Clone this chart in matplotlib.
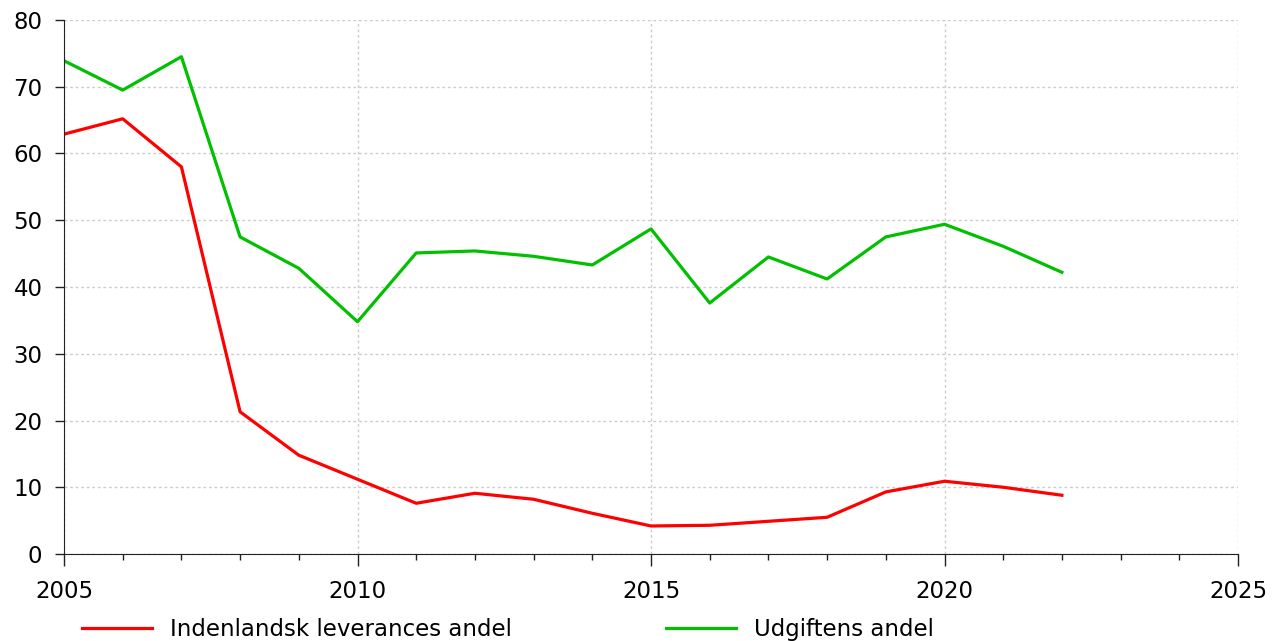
import numpy as np
import matplotlib.pyplot as plt
from matplotlib.ticker import MultipleLocator

years = list(range(2005, 2023))
indenlandsk = [62.9, 65.2, 58.0, 21.3, 14.8, 11.2, 7.6, 9.1, 8.2, 6.1,
               4.2, 4.3, 4.9, 5.5, 9.3, 10.9, 10.0, 8.8]
udgift = [73.9, 69.5, 74.5, 47.5, 42.8, 34.8, 45.1, 45.4, 44.6, 43.3,
          48.7, 37.6, 44.5, 41.2, 47.5, 49.4, 46.1, 42.2]

plt.rcParams['font.family'] = ['DejaVu Sans']

fig = plt.figure(figsize=(12.78, 6.41), dpi=100)
ax = fig.add_axes([64 / 1278, 1 - 554 / 641, (1238 - 64) / 1278, (554 - 20) / 641])

ax.plot(years, indenlandsk, color='#ff0000', lw=2.3, label='Indenlandsk leverances andel')
ax.plot(years, udgift, color='#00c000', lw=2.3, label='Udgiftens andel')

ax.set_xlim(2005, 2025)
ax.set_ylim(0, 80)
ax.xaxis.set_major_locator(MultipleLocator(5))
ax.xaxis.set_minor_locator(MultipleLocator(1))
ax.yaxis.set_major_locator(MultipleLocator(10))
ax.tick_params(axis='both', which='both', labelsize=16.5, width=1, color='#222222')
ax.tick_params(axis='x', which='major', length=8.6, pad=10)
ax.tick_params(axis='x', which='minor', length=4.3)
ax.tick_params(axis='y', which='major', length=6.5, pad=9)
ax.grid(True, which='major', color='#cccccc', linestyle=(0, (2, 2)), lw=1)

for s in ['top', 'right']:
    ax.spines[s].set_visible(False)
for s in ['left', 'bottom']:
    ax.spines[s].set_color('#222222')

fig.legend(loc='center', bbox_to_anchor=(0.3975, 0.018), ncol=2, frameon=False,
           fontsize=16.5, handlelength=3.05, handletextpad=0.78, columnspacing=6.75)

fig.savefig('out.png', dpi=100)
